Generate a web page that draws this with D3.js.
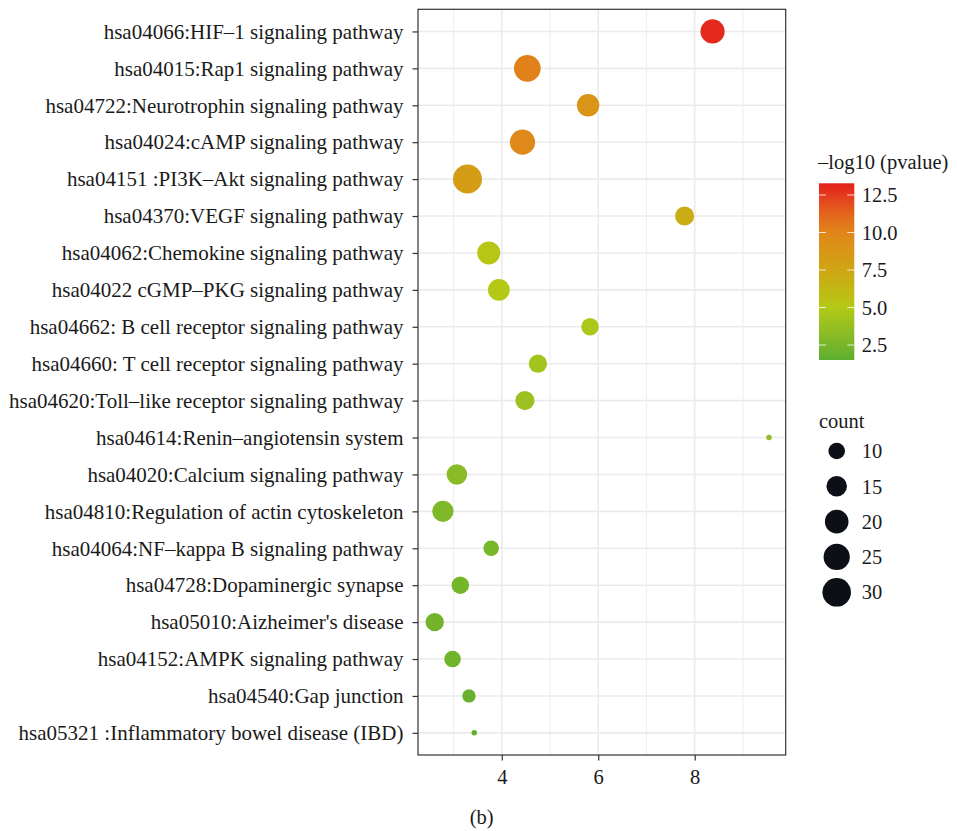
<!DOCTYPE html>
<html>
<head>
<meta charset="utf-8">
<script src="https://cdn.jsdelivr.net/npm/d3@7"></script>
<style>
  html, body { margin: 0; padding: 0; background: #fff; }
  svg { display: block; }
  text { font-family: "Liberation Serif", "Times New Roman", serif; fill: #1a1a1a; }
</style>
</head>
<body>
<svg id="chart" width="957" height="831"></svg>
<script>
// ---------------- data ----------------
const pathways = [
  "hsa04066:HIF–1 signaling pathway",
  "hsa04015:Rap1 signaling pathway",
  "hsa04722:Neurotrophin signaling pathway",
  "hsa04024:cAMP signaling pathway",
  "hsa04151 :PI3K–Akt signaling pathway",
  "hsa04370:VEGF signaling pathway",
  "hsa04062:Chemokine signaling pathway",
  "hsa04022 cGMP–PKG signaling pathway",
  "hsa04662: B cell receptor signaling pathway",
  "hsa04660: T cell receptor signaling pathway",
  "hsa04620:Toll–like receptor signaling pathway",
  "hsa04614:Renin–angiotensin system",
  "hsa04020:Calcium signaling pathway",
  "hsa04810:Regulation of actin cytoskeleton",
  "hsa04064:NF–kappa B signaling pathway",
  "hsa04728:Dopaminergic synapse",
  "hsa05010:Aizheimer's disease",
  "hsa04152:AMPK signaling pathway",
  "hsa04540:Gap junction",
  "hsa05321 :Inflammatory bowel disease (IBD)"
];
const enrichment = [8.37, 4.53, 5.79, 4.43, 3.29, 7.79, 3.73, 3.94, 5.83, 4.75,
                    4.48, 9.54, 3.07, 2.78, 3.78, 3.14, 2.61, 2.98, 3.32, 3.43];
const counts     = [21, 26, 18, 23, 31, 13, 19, 17, 11, 12,
                    13, 4, 15, 16, 9, 11, 12, 10, 7, 4];
const neglogP    = [13.0, 10.2, 8.8, 9.8, 8.3, 7.0, 5.3, 5.0, 4.7, 4.3,
                    4.0, 3.6, 3.2, 2.8, 2.5, 2.4, 2.3, 2.2, 1.9, 1.7];
const xTicks = [4, 6, 8];
const xMinorTicks = [3, 5, 7, 9];
const colorTicks = [2.5, 5.0, 7.5, 10.0, 12.5];
const colorTickLabels = ["2.5", "5.0", "7.5", "10.0", "12.5"];
const sizeTicks = [10, 15, 20, 25, 30];
const colorDomainStops = [1.5, 5.0, 7.5, 10.0, 12.5, 13.28];
const colorRangeStops = ["#5dae2f", "#b3c915", "#cfa514", "#e0861a", "#e4361e", "#e3221c"];
const countMin = 4, countMax = 31;

// ---------------- layout ----------------
const FS = "20.5px";
const FSY = "21px";
const svg = d3.select("#chart");
const panel = { left: 418, right: 785.7, top: 9.3, bottom: 755 };

const xExt = d3.extent(enrichment);
const xPad = (xExt[1] - xExt[0]) * 0.05;
const x = d3.scaleLinear().domain([xExt[0] - xPad, xExt[1] + xPad]).range([panel.left, panel.right]);
const y = d3.scalePoint().domain(pathways).range([panel.top, panel.bottom]).padding(0.6);

const color = d3.scaleLinear().domain(colorDomainStops).range(colorRangeStops).interpolate(d3.interpolateLab).clamp(true);
// area-style size scale: radius grows with sqrt of rescaled count
const rLin = d3.scaleLinear().domain([0, Math.sqrt(countMax - countMin)]).range([2.77, 2.77 + 2.257 * Math.sqrt(countMax - countMin)]);
const r = v => rLin(Math.sqrt(Math.max(0, v - countMin)));

// ---------------- grid ----------------
const grid = svg.append("g");
grid.selectAll("line.minor").data(xMinorTicks).join("line")
  .attr("x1", d => x(d)).attr("x2", d => x(d))
  .attr("y1", panel.top).attr("y2", panel.bottom)
  .attr("stroke", "#f0f0f0").attr("stroke-width", 1.2);
grid.selectAll("line.majx").data(xTicks).join("line")
  .attr("x1", d => x(d)).attr("x2", d => x(d))
  .attr("y1", panel.top).attr("y2", panel.bottom)
  .attr("stroke", "#ebebeb").attr("stroke-width", 1.6);
grid.selectAll("line.majy").data(pathways).join("line")
  .attr("x1", panel.left).attr("x2", panel.right)
  .attr("y1", d => y(d)).attr("y2", d => y(d))
  .attr("stroke", "#ebebeb").attr("stroke-width", 1.6);

// ---------------- points ----------------
const pts = pathways.map((p, i) => ({ p, x: enrichment[i], c: counts[i], v: neglogP[i] }));
svg.append("g").selectAll("circle").data(pts).join("circle")
  .attr("cx", d => x(d.x)).attr("cy", d => y(d.p))
  .attr("r", d => r(d.c))
  .attr("fill", d => color(d.v));

// ---------------- panel border ----------------
svg.append("rect")
  .attr("x", panel.left).attr("y", panel.top)
  .attr("width", panel.right - panel.left).attr("height", panel.bottom - panel.top)
  .attr("fill", "none").attr("stroke", "#333").attr("stroke-width", 1.2);

// ---------------- axes ----------------
const yAxis = svg.append("g").attr("transform", `translate(${panel.left},0)`)
  .call(d3.axisLeft(y).tickSize(5.5).tickPadding(9));
yAxis.select(".domain").remove();
yAxis.selectAll(".tick line").attr("stroke", "#333").attr("stroke-width", 1.2);
yAxis.selectAll(".tick text").style("font-size", FSY).attr("fill", "#1a1a1a")
  .style("font-family", "'Liberation Serif', serif");

const xAxis = svg.append("g").attr("transform", `translate(0,${panel.bottom})`)
  .call(d3.axisBottom(x).tickValues(xTicks).tickSize(5.5).tickPadding(9).tickFormat(d3.format("d")));
xAxis.select(".domain").remove();
xAxis.selectAll(".tick line").attr("stroke", "#333").attr("stroke-width", 1.2);
xAxis.selectAll(".tick text").style("font-size", FS).attr("fill", "#1a1a1a")
  .style("font-family", "'Liberation Serif', serif");

svg.append("text").attr("x", 481.7).attr("y", 824).attr("text-anchor", "middle")
  .style("font-size", FS).text("(b)");

// ---------------- color legend ----------------
const cbar = { x: 819, w: 35.3, top: 183.3, bottom: 360 };
const cy = d3.scaleLinear().domain([colorDomainStops[0], colorDomainStops[colorDomainStops.length - 1]]).range([cbar.bottom, cbar.top]);
svg.append("text").attr("x", 818).attr("y", 169).style("font-size", FS).text("–log10 (pvalue)");
const defs = svg.append("defs");
const grad = defs.append("linearGradient").attr("id", "cgrad").attr("x1", 0).attr("x2", 0).attr("y1", 1).attr("y2", 0);
d3.range(0, 1.0001, 0.05).forEach(t => {
  const v = cy.domain()[0] + t * (cy.domain()[1] - cy.domain()[0]);
  grad.append("stop").attr("offset", t).attr("stop-color", color(v));
});
svg.append("rect").attr("x", cbar.x).attr("y", cbar.top).attr("width", cbar.w).attr("height", cbar.bottom - cbar.top)
  .attr("fill", "url(#cgrad)");
const cTickG = svg.append("g");
colorTicks.forEach((t, i) => {
  cTickG.append("line").attr("x1", cbar.x).attr("x2", cbar.x + 7).attr("y1", cy(t)).attr("y2", cy(t))
    .attr("stroke", "#fff").attr("stroke-opacity", 0.8).attr("stroke-width", 1);
  cTickG.append("line").attr("x1", cbar.x + cbar.w - 7).attr("x2", cbar.x + cbar.w).attr("y1", cy(t)).attr("y2", cy(t))
    .attr("stroke", "#fff").attr("stroke-opacity", 0.8).attr("stroke-width", 1);
  cTickG.append("text").attr("x", 861.7).attr("y", cy(t)).attr("dy", "0.35em")
    .style("font-size", FS).text(colorTickLabels[i]);
});

// ---------------- size legend ----------------
svg.append("text").attr("x", 819).attr("y", 428).style("font-size", FS).text("count");
const sizeY = d3.scalePoint().domain(sizeTicks).range([451, 592.3]);
const sl = svg.append("g");
sizeTicks.forEach(t => {
  sl.append("circle").attr("cx", 836.7).attr("cy", sizeY(t)).attr("r", r(t)).attr("fill", "#0d0f17");
  sl.append("text").attr("x", 861.7).attr("y", sizeY(t)).attr("dy", "0.35em").style("font-size", FS).text(t);
});
</script>
</body>
</html>
